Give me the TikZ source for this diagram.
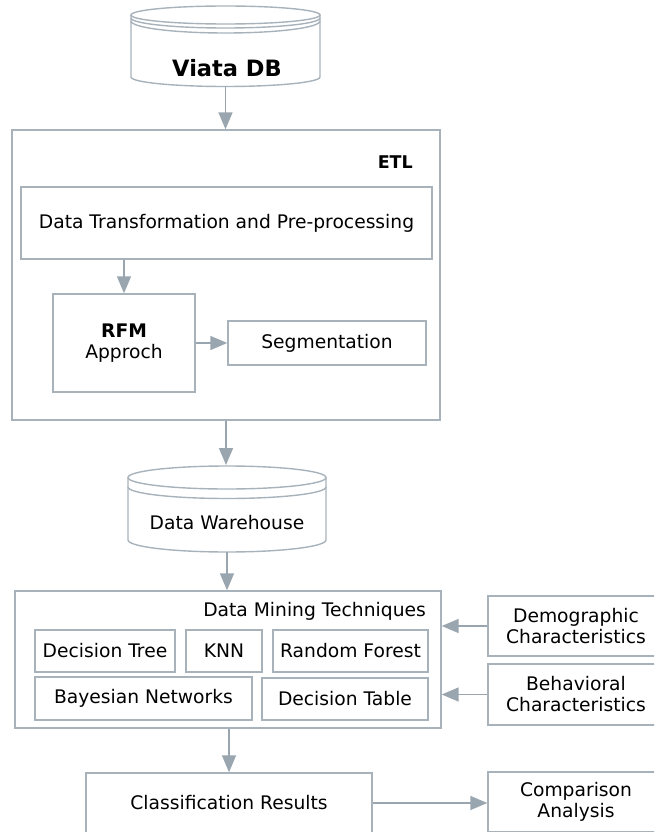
\documentclass[tikz,border=0pt]{standalone}
\usepackage{fontspec}
\setmainfont{DejaVu Sans}
\usepackage{tikz}
\usetikzlibrary{calc}
\usetikzlibrary{arrows.meta}
\usetikzlibrary{positioning}
\definecolor{framegray}{RGB}{168, 178, 187}
\definecolor{arrowgray}{RGB}{154, 166, 175}
\tikzset{
  txt/.style   ={inner sep=0pt, align=center, font=\fontsize{18.7}{21}\selectfont},
  box/.style   ={txt, draw=framegray, line width=1.4pt},
  frame/.style ={draw=framegray, line width=1.4pt},
  flow/.style  ={draw=arrowgray, line width=1.5pt, -{Triangle[width=14pt,length=17pt]}},
}

\begin{document}
\begin{tikzpicture}[x=1pt, y=1pt]
    \useasboundingbox (0,0) rectangle (654,-832);
    \clip             (0,0) rectangle (654,-832);
    % Viata DB cylinder
    \draw[frame] (131,-15) -- (131,-77) arc[start angle=180, end angle=360, x radius=94.5pt, y radius=9.5pt] -- (320,-15);
    \draw[frame] (225.5,-15) ellipse[x radius=94.5pt, y radius=9pt];
    \draw[frame] (131,-18) arc[start angle=180, end angle=360, x radius=94.5pt, y radius=10pt];
    \draw[frame] (131,-21) arc[start angle=180, end angle=360, x radius=94.5pt, y radius=12pt];
    \node[txt, font=\bfseries\fontsize{22.5}{26}\selectfont] (vdb) at (227,-68) {Viata DB};
    \coordinate (vdbbot) at (225.5,-86.5);

    % ETL block
    \node[box, minimum width=428pt, minimum height=290pt] (etl)  at (226,  -275)   {};
    \node[txt, font=\bfseries\fontsize{17.5}{20}\selectfont, anchor=east] (etltag) at (413,-162) {ETL};
    \node[box, minimum width=411pt, minimum height=72pt]  (dtp)  at (226.5,-223)   {Data Transformation and Pre-processing};
    \node[box, minimum width=142pt, minimum height=98pt]  (rfm)  at (124,  -343)   {{\bfseries RFM}\\Approch};
    \node[box, minimum width=198pt, minimum height=44pt]  (seg)  at (327,  -343)   {Segmentation};

    % Data Warehouse cylinder
    \draw[frame] (128,-477.5) -- (128,-540) arc[start angle=180, end angle=360, x radius=99pt, y radius=12pt] -- (326,-477.5);
    \draw[frame] (227,-477.5) ellipse[x radius=99pt, y radius=11.5pt];
    \draw[frame] (128,-487) arc[start angle=180, end angle=360, x radius=99pt, y radius=11.5pt];
    \node[txt] (dw) at (227,-523) {Data Warehouse};
    \coordinate (dwtop) at (227,-465);
    \coordinate (dwbot) at (227,-552);

    % Data mining block
    \node[box, minimum width=426pt, minimum height=137pt] (dm)   at (228,  -659.5) {};
    \node[txt, anchor=east] (dmtag) at (426,-611) {Data Mining Techniques};
    \node[box, minimum width=140pt, minimum height=42pt]  (dt)   at (105,  -651)   {Decision Tree};
    \node[box, minimum width=76pt,  minimum height=42pt]  (knn)  at (224,  -651)   {KNN};
    \node[box, minimum width=155pt, minimum height=42pt]  (rf)   at (350.5,-651)   {Random Forest};
    \node[box, minimum width=217pt, minimum height=43pt]  (bn)   at (143.5,-698.5) {Bayesian Networks};
    \node[box, minimum width=166pt, minimum height=42pt]  (dtab) at (345,  -699)   {Decision Table};

    % inputs and results
    \node[box, minimum width=176pt, minimum height=60pt]  (demo) at (576,  -626)   {Demographic\\Characteristics};
    \node[box, minimum width=176pt, minimum height=61pt]  (beh)  at (576,  -694.5) {Behavioral\\Characteristics};
    \node[box, minimum width=286pt, minimum height=60pt]  (cls)  at (229,  -803)   {Classification Results};
    \node[box, minimum width=176pt, minimum height=60pt]  (cmp)  at (576,  -802)   {Comparison\\Analysis};

    % connectors
    \draw[flow] (vdbbot)     -- (vdbbot |- etl.north);
    \draw[flow] (dtp.south -| rfm.north) -- (rfm.north);
    \draw[flow] (rfm.east)   -- (seg.west);
    \draw[flow] (etl.south)  -- (etl.south |- dwtop);
    \draw[flow] (dwbot)      -- (dwbot |- dm.north);
    \draw[flow] (demo.west)  -- (demo.west -| dm.east);
    \draw[flow] (beh.west)   -- (beh.west -| dm.east);
    \draw[flow] (dm.south -| cls.north) -- (cls.north);
    \draw[flow] (cls.east)   -- (cls.east -| cmp.west);
\end{tikzpicture}
\end{document}
